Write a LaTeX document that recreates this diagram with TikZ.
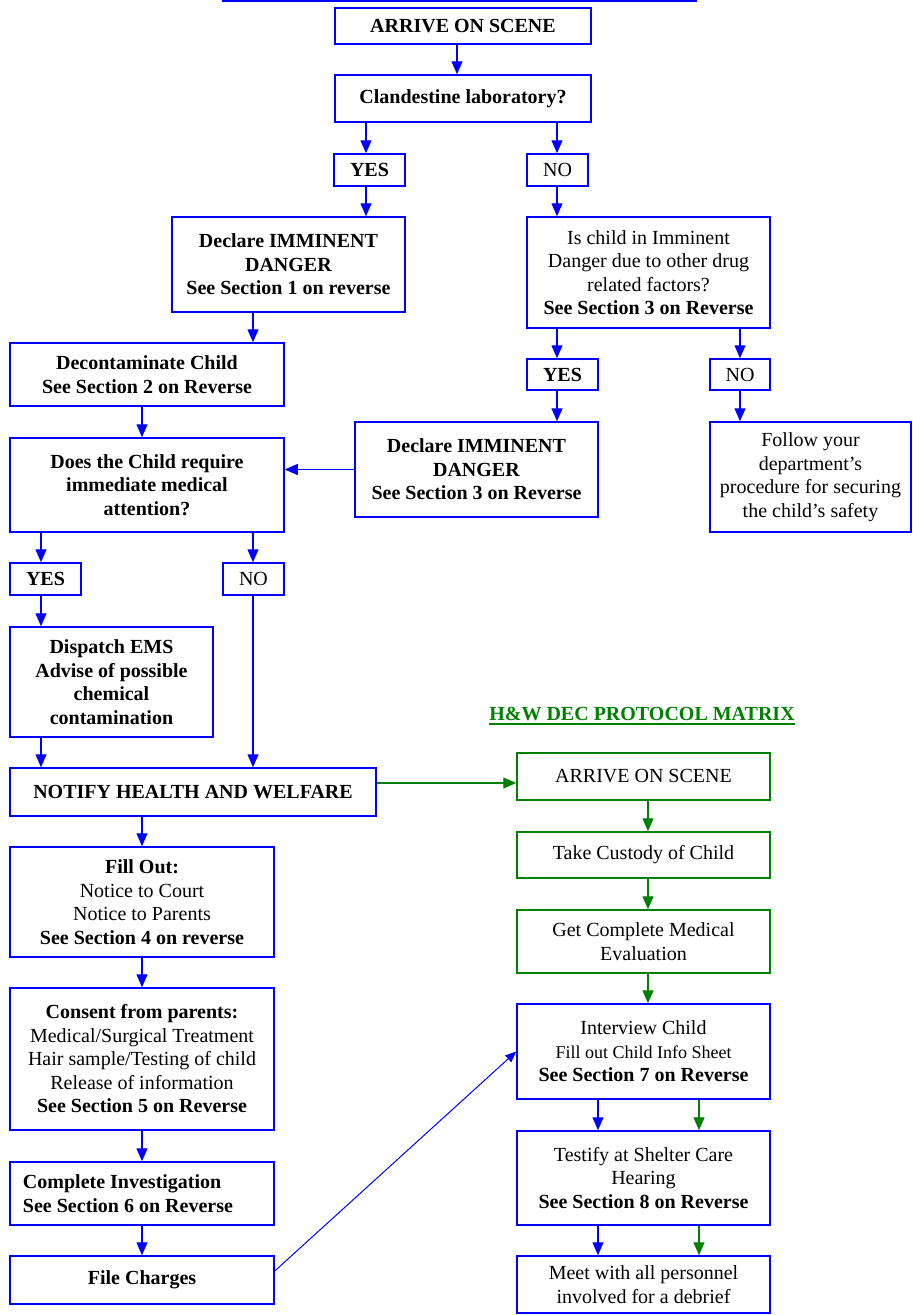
\documentclass[tikz,border=0pt]{standalone}
\usepackage{fontspec}
\setmainfont{Liberation Serif}
\usetikzlibrary{arrows.meta,calc}
\definecolor{myblue}{RGB}{0,0,255}
\definecolor{mygreen}{RGB}{0,128,0}
\tikzset{
  bbox/.style={draw=myblue, line width=1.5pt, inner sep=0pt, align=center, font=\fontsize{20}{23.5}\selectfont},
  gbox/.style={draw=mygreen, line width=1.5pt, inner sep=0pt, align=center, font=\fontsize{20}{23.5}\selectfont},
  barr/.style={draw=myblue, line width=1.3pt, -{Triangle[length=13pt,width=11pt]}},
  garr/.style={draw=mygreen, line width=1.3pt, -{Triangle[length=13pt,width=11pt]}},
  thinarr/.style={draw=myblue, line width=1pt, -{Triangle[length=11pt,width=9pt]}}
}
\begin{document}
\begin{tikzpicture}[x=1pt,y=-1pt]
\fill[white] (0,0) rectangle (913,1315);
\useasboundingbox (0,0) rectangle (913,1315);

% x positions of connectors
\coordinate (x457) at (457,0);
\coordinate (x366) at (366,0);
\coordinate (x557) at (557,0);
\coordinate (x253) at (253,0);
\coordinate (x740) at (740,0);
\coordinate (x142) at (142,0);
\coordinate (x41) at (41,0);
\coordinate (x648) at (648,0);
\coordinate (x598) at (598,0);
\coordinate (x699) at (699,0);
\coordinate (y783) at (0,783);

% top rule
\coordinate (tl) at (222,1);
\coordinate (tr) at (697,1);
\draw[myblue, line width=2pt] (tl) -- (tr);

% left / main flow
\node[bbox, minimum width=256pt, minimum height=36pt] (arrive) at (463,26) {\textbf{ARRIVE ON SCENE}};
\node[bbox, minimum width=256pt, minimum height=47pt] (clan) at (463,98.5) {\textbf{Clandestine laboratory?}};
\node[bbox, minimum width=71pt, minimum height=32pt] (yes1) at (369.5,170) {\textbf{YES}};
\node[bbox, minimum width=61pt, minimum height=32pt] (no1) at (557.5,170) {NO};
\node[bbox, minimum width=233pt, minimum height=95pt] (decl1) at (288.5,264.5) {\textbf{Declare IMMINENT}\\\textbf{DANGER}\\\textbf{See Section 1 on reverse}};
\node[bbox, minimum width=243pt, minimum height=111pt] (ischild) at (648.5,272.5) {Is child in Imminent\\Danger due to other drug\\related factors?\\\textbf{See Section 3 on Reverse}};
\node[bbox, minimum width=274pt, minimum height=63pt] (decon) at (147,374.5) {\textbf{Decontaminate Child}\\\textbf{See Section 2 on Reverse}};
\node[bbox, minimum width=71pt, minimum height=31pt] (yes2) at (562.5,374.5) {\textbf{YES}};
\node[bbox, minimum width=60pt, minimum height=31pt] (no2) at (740,374.5) {NO};
\node[bbox, minimum width=243pt, minimum height=95pt] (decl2) at (476.5,469.5) {\textbf{Declare IMMINENT}\\\textbf{DANGER}\\\textbf{See Section 3 on Reverse}};
\node[bbox, minimum width=201pt, minimum height=110pt] (follow) at (810.5,477) {Follow your\\department’s\\procedure for securing\\the child’s safety};
\node[bbox, minimum width=274pt, minimum height=94pt] (doeschild) at (147,485) {\textbf{Does the Child require}\\\textbf{immediate medical}\\\textbf{attention?}};
\node[bbox, minimum width=71pt, minimum height=32pt] (yes3) at (45.5,579) {\textbf{YES}};
\node[bbox, minimum width=61pt, minimum height=32pt] (no3) at (253.5,579) {NO};
\node[bbox, minimum width=203pt, minimum height=110pt] (dispatch) at (111.5,682) {\textbf{Dispatch EMS}\\\textbf{Advise of possible}\\\textbf{chemical}\\\textbf{contamination}};
\node[bbox, minimum width=366pt, minimum height=48pt] (notify) at (193,792) {\textbf{NOTIFY HEALTH AND WELFARE}};
\node[bbox, minimum width=264pt, minimum height=110pt] (fillout) at (142,902) {\textbf{Fill Out:}\\Notice to Court\\Notice to Parents\\\textbf{See Section 4 on reverse}};
\node[bbox, minimum width=264pt, minimum height=142pt] (consent) at (142,1059) {\textbf{Consent from parents:}\\Medical/Surgical Treatment\\Hair sample/Testing of child\\Release of information\\\textbf{See Section 5 on Reverse}};
\node[bbox, minimum width=264pt, minimum height=63pt, text width=238pt, align=flush left] (complete) at (142,1193.5) {\textbf{Complete Investigation}\\\textbf{See Section 6 on Reverse}};
\node[bbox, minimum width=264pt, minimum height=48pt] (file) at (142,1280) {\textbf{File Charges}};

% right / H&W protocol
\node[text=mygreen, font=\bfseries\fontsize{20}{24}\selectfont, inner sep=0pt, anchor=base] (hwtitle) at (642,720) {H\&W DEC PROTOCOL MATRIX};
\draw[mygreen, line width=2pt] ([yshift=-4pt]hwtitle.base west) -- ([yshift=-4pt]hwtitle.base east);
\node[gbox, minimum width=253pt, minimum height=47pt] (garrive) at (643.5,776.5) {ARRIVE ON SCENE};
\node[gbox, minimum width=253pt, minimum height=46pt] (custody) at (643.5,855) {Take Custody of Child};
\node[gbox, minimum width=253pt, minimum height=63pt] (medical) at (643.5,941.5) {Get Complete Medical\\Evaluation};
\node[bbox, minimum width=253pt, minimum height=95pt] (interview) at (643.5,1051.5) {Interview Child\\{\fontsize{18}{23.5}\selectfont Fill out Child Info Sheet}\\\textbf{See Section 7 on Reverse}};
\node[bbox, minimum width=253pt, minimum height=94pt] (testify) at (643.5,1178) {Testify at Shelter Care\\Hearing\\\textbf{See Section 8 on Reverse}};
\node[bbox, minimum width=253pt, minimum height=57pt] (meet) at (643.5,1284.5) {Meet with all personnel\\involved for a debrief};

% connectors
\draw[barr] (x457 |- arrive.south) -- (x457 |- clan.north);
\draw[barr] (x366 |- clan.south) -- (x366 |- yes1.north);
\draw[barr] (x557 |- clan.south) -- (x557 |- no1.north);
\draw[barr] (x366 |- yes1.south) -- (x366 |- decl1.north);
\draw[barr] (x557 |- no1.south) -- (x557 |- ischild.north);
\draw[barr] (x253 |- decl1.south) -- (x253 |- decon.north);
\draw[barr] (x557 |- ischild.south) -- (x557 |- yes2.north);
\draw[barr] (x740 |- ischild.south) -- (x740 |- no2.north);
\draw[barr] (x557 |- yes2.south) -- (x557 |- decl2.north);
\draw[barr] (x740 |- no2.south) -- (x740 |- follow.north);
\draw[barr] (x142 |- decon.south) -- (x142 |- doeschild.north);
\draw[barr] (decl2.west) -- (decl2.west -| doeschild.east);
\draw[barr] (x41 |- doeschild.south) -- (x41 |- yes3.north);
\draw[barr] (x253 |- doeschild.south) -- (x253 |- no3.north);
\draw[barr] (x41 |- yes3.south) -- (x41 |- dispatch.north);
\draw[barr] (x253 |- no3.south) -- (x253 |- notify.north);
\draw[barr] (x41 |- dispatch.south) -- (x41 |- notify.north);
\draw[barr] (x142 |- notify.south) -- (x142 |- fillout.north);
\draw[barr] (x142 |- fillout.south) -- (x142 |- consent.north);
\draw[barr] (x142 |- consent.south) -- (x142 |- complete.north);
\draw[barr] (x142 |- complete.south) -- (x142 |- file.north);
\draw[garr] (notify.east |- y783) -- (garrive.west |- y783);
\draw[garr] (x648 |- garrive.south) -- (x648 |- custody.north);
\draw[garr] (x648 |- custody.south) -- (x648 |- medical.north);
\draw[garr] (x648 |- medical.south) -- (x648 |- interview.north);
\draw[thinarr] ([yshift=9pt]file.east) -- (interview.west);
\draw[barr] (x598 |- interview.south) -- (x598 |- testify.north);
\draw[garr] (x699 |- interview.south) -- (x699 |- testify.north);
\draw[barr] (x598 |- testify.south) -- (x598 |- meet.north);
\draw[garr] (x699 |- testify.south) -- (x699 |- meet.north);
\end{tikzpicture}
\end{document}
